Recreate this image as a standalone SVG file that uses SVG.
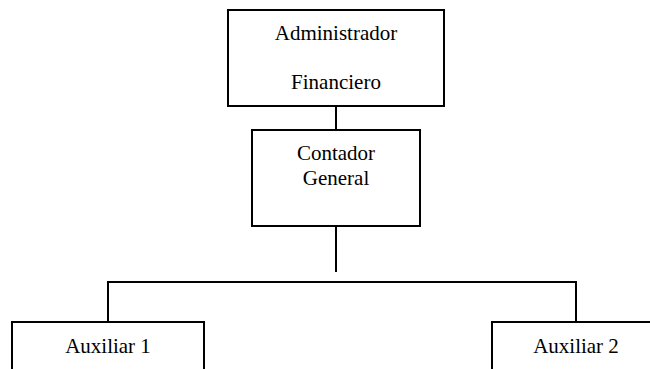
<svg xmlns="http://www.w3.org/2000/svg" width="650" height="369" viewBox="0 0 650 369">
<style>
.box{fill:#fff;stroke:#000;stroke-width:2}
.ln{fill:none;stroke:#000;stroke-width:2}
.t{font-size:21px;fill:#000;text-anchor:middle}
</style>
<rect width="650" height="369" fill="#fff"/>
<g id="connectors">
<line class="ln" x1="336" y1="101" x2="336" y2="130"/>
<line class="ln" x1="336" y1="224" x2="336" y2="272"/>
<polyline class="ln" points="108,322 108,282 576,282 576,322"/>
</g>
<g font-family="'Liberation Serif', 'Times New Roman', Times, serif">
<g id="admin">
<rect class="box" x="228" y="10" width="216" height="96"/>
<text class="t" x="336" y="40">Administrador</text>
<text class="t" x="336" y="89">Financiero</text>
</g>
<g id="contador">
<rect class="box" x="252" y="130" width="168" height="96"/>
<text class="t" x="336" y="160">Contador</text>
<text class="t" x="336" y="185">General</text>
</g>
<g id="aux1">
<rect class="box" x="12" y="322" width="192" height="60"/>
<text class="t" x="108" y="353">Auxiliar 1</text>
</g>
<g id="aux2">
<rect class="box" x="492" y="322" width="170" height="60"/>
<text class="t" x="576" y="353">Auxiliar 2</text>
</g>
</g>
</svg>
